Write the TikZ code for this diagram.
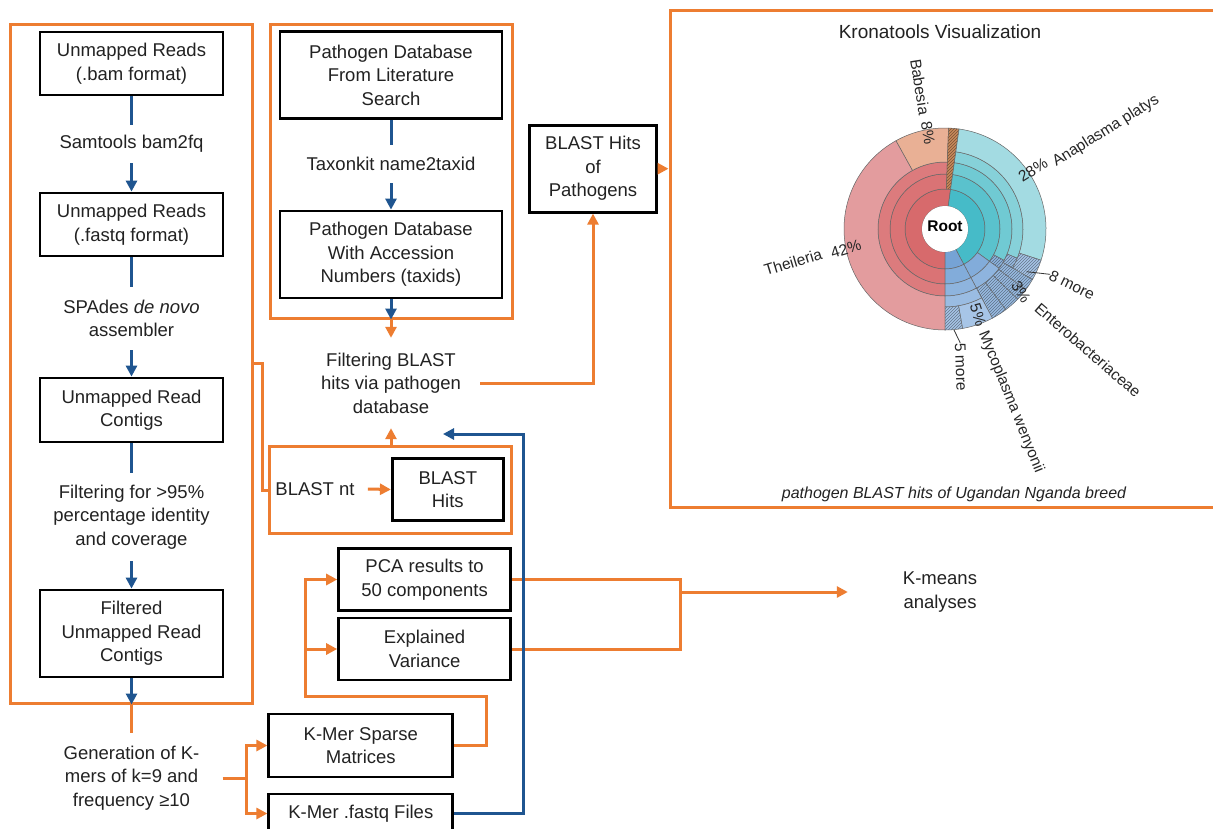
\documentclass[tikz,border=0pt]{standalone}
\usepackage{fontspec}
\setmainfont{Liberation Sans}
\usetikzlibrary{arrows.meta,patterns}
\definecolor{orng}{HTML}{ED7D31}
\definecolor{nblue}{HTML}{1F5590}
\definecolor{txt}{HTML}{222222}
\definecolor{kr1}{HTML}{D76A6C}
\definecolor{kr2}{HTML}{DA7375}
\definecolor{kr3}{HTML}{DC7B7D}
\definecolor{thei}{HTML}{E39C9E}
\definecolor{babe}{HTML}{E9B095}
\definecolor{brwn}{HTML}{C98A5C}
\definecolor{tc1}{HTML}{46BBC8}
\definecolor{tc2}{HTML}{5AC2CD}
\definecolor{tc3}{HTML}{70CAD3}
\definecolor{tc4}{HTML}{86D1D9}
\definecolor{plat}{HTML}{A3DBE2}
\definecolor{bl1}{HTML}{76A3D5}
\definecolor{bl2}{HTML}{82ACDA}
\definecolor{bl3}{HTML}{8EB4DE}
\definecolor{bl4}{HTML}{9ABCE2}
\definecolor{bl5}{HTML}{A7C5E7}
\newcommand{\mfont}{\fontsize{18.5}{23.5}\selectfont}
\newcommand{\kfont}{\fontsize{15.5}{18}\selectfont}
\newcommand{\ksec}[5]{\filldraw[fill=#1,draw=black!60,line width=0.5pt] (#2:#4pt) arc[start angle=#2,end angle=#3,radius=#4pt] -- (#3:#5pt) arc[start angle=#3,end angle=#2,radius=#5pt] -- cycle;}
\newcommand{\khat}[5]{\ksec{#1}{#2}{#3}{#4}{#5}\fill[pattern=north east lines,pattern color=#1!60!black] (#2:#4pt) arc[start angle=#2,end angle=#3,radius=#4pt] -- (#3:#5pt) arc[start angle=#3,end angle=#2,radius=#5pt] -- cycle;}
\begin{document}
\begin{tikzpicture}[x=1pt,y=-1pt,
  bx/.style={draw=black,line width=2.8pt,align=center,inner sep=0pt,font=\mfont,text=txt},
  lbl/.style={align=center,inner sep=0pt,font=\mfont,text=txt},
  grp/.style={draw=orng,line width=3pt,inner sep=0pt},
  oline/.style={draw=orng,line width=3pt},
  oarr/.style={oline,-{Triangle[length=11pt,width=11pt]}},
  bline/.style={draw=nblue,line width=3pt},
  barr/.style={bline,-{Triangle[length=11pt,width=11pt]}},
  klbl/.style={font=\kfont,inner sep=0pt,text=black!85}]
\useasboundingbox (0,0) rectangle (1213,828);
\fill[white] (0,0) rectangle (1213,828);

% ---------- left column ----------
\node[grp,minimum width=242pt,minimum height=679pt] (g1) at (131,363.5) {};
\node[bx,minimum width=183pt,minimum height=63pt] (b1) at (131.5,63.5) {Unmapped Reads\\(.bam format)};
\node[lbl,minimum height=38pt] (t1) at (131.5,144) {Samtools bam2fq};
\node[bx,minimum width=183pt,minimum height=63pt] (b2) at (131.5,224.5) {Unmapped Reads\\(.fastq format)};
\node[lbl,minimum height=63pt] (t2) at (131.5,318.5) {SPAdes \textit{de novo}\\assembler};
\node[bx,minimum width=183pt,minimum height=64pt] (b3) at (131.5,410) {Unmapped Read\\Contigs};
\node[lbl,minimum height=88pt] (t3) at (131.5,517) {Filtering for >95\%\\percentage identity\\and coverage};
\node[bx,minimum width=183pt,minimum height=87pt] (b4) at (131.5,633.5) {Filtered\\Unmapped Read\\Contigs};
\node[lbl,minimum width=182pt,minimum height=90pt] (gen) at (131.5,778) {Generation of K-\\mers of k=9 and\\frequency ≥10};

\draw[bline] (b1) -- (t1);
\draw[barr] (t1) -- (b2);
\draw[bline] (b2) -- (t2);
\draw[barr] (t2) -- (b3);
\draw[bline] (b3) -- (t3);
\draw[barr] (t3) -- (b4);
\draw[barr] (b4) -- (b4 |- g1.south);
\draw[oline] (b4 |- g1.south) -- (gen.north);

% ---------- middle top ----------
\node[grp,minimum width=242pt,minimum height=294pt] (g2) at (391,171) {};
\node[bx,minimum width=222pt,minimum height=87pt] (pd1) at (391,75) {Pathogen Database\\From Literature\\Search};
\node[lbl,minimum height=38pt] (t4) at (391,164) {Taxonkit name2taxid};
\node[bx,minimum width=222pt,minimum height=87pt] (pd2) at (391,254.5) {Pathogen Database\\With Accession\\Numbers (taxids)};
\node[lbl,minimum width=178pt,minimum height=90pt] (filt) at (391,383) {Filtering BLAST\\hits via pathogen\\database};
\draw[bline] (pd1) -- (t4);
\draw[barr] (t4) -- (pd2);
\draw[barr] (pd2) -- (pd2 |- g2.south);
\draw[oarr] (g2.south) -- (filt.north);

\node[bx,minimum width=127pt,minimum height=87pt] (bhp) at (593,168.7) {BLAST Hits\\of\\Pathogens};
\draw[oarr] (filt.east) -| (bhp.south);

% ---------- BLAST nt group ----------
\node[grp,minimum width=242pt,minimum height=87pt] (g3) at (390.5,490) {};
\node[lbl] (bnt) at (315,489) {BLAST nt};
\node[bx,minimum width=111pt,minimum height=62pt] (bh) at (447.8,489.5) {BLAST\\Hits};
\draw[oarr] ([xshift=13pt]bnt.east) -- (bh.west);
\draw[oarr] (g3.north -| filt.south) -- (filt.south);
\draw[oline] (g1.east) -- ++(9,0) |- (g3.west);

% ---------- k-mer part ----------
\node[bx,minimum width=172pt,minimum height=62pt] (pca) at (424.6,579.5) {PCA results to\\50 components};
\node[bx,minimum width=172pt,minimum height=62pt] (ev) at (424.6,649) {Explained\\Variance};
\node[bx,minimum width=184pt,minimum height=63pt] (kms) at (360.8,745.5) {K-Mer Sparse\\Matrices};
\node[bx,minimum width=184pt,minimum height=39pt] (kmf) at (360.8,813.5) {K-Mer .fastq Files};
\node[lbl,minimum width=184pt] (km) at (940,592) {K-means\\analyses};

\coordinate (gsplit) at (246,778);
\draw[oline] (gen.east) -- (gsplit);
\draw[oarr] (gsplit) |- (kms.west);
\draw[oarr] (gsplit) |- (kmf.west);
\coordinate (lpA) at (486.4,696.7);
\coordinate (lpB) at (305.4,696.7);
\draw[oarr] (kms.east) -| (lpA) -- (lpB) |- (pca.west);
\draw[oarr] (lpB |- ev.west) -- (ev.west);
\coordinate (rA) at (680,579.5);
\coordinate (rM) at (680,592);
\draw[oline] (pca.east) -- (pca.east -| rA) -- (ev.east -| rA) -- (ev.east);
\draw[oarr] (rM) -- (km.west);
\coordinate (bj) at (523.6,434);
\coordinate (fin) at (443,434);
\draw[barr] (kmf.east) -| (bj) -- (fin);

% ---------- Krona ----------
\node[grp,minimum width=560pt,minimum height=497pt] (kr) at (950,258.5) {};
\draw[oarr] (bhp.east) -- (bhp.east -| kr.west);
\node[font=\fontsize{19}{22}\selectfont,inner sep=0pt,text=txt] (ktitle) at (940,32) {Kronatools Visualization};
\node[font=\fontsize{16}{20}\selectfont\itshape,inner sep=0pt,text=txt] (kcap) at (954,494) {pathogen BLAST hits of Ugandan Nganda breed};

\begin{scope}[shift={(945,229)}]
% eukaryote side
\ksec{kr1}{82}{270}{23}{40}
\ksec{kr2}{88}{270}{40}{55}
\ksec{kr3}{88}{270}{55}{67}
\ksec{thei}{119}{270}{67}{101}
\ksec{babe}{88}{119}{67}{101}
\khat{brwn}{82}{88}{40}{101}
% anaplasma lineage
\ksec{tc1}{82}{-62}{23}{40}
\ksec{tc2}{82}{-36}{40}{55}
\ksec{tc3}{82}{-28}{55}{67}
\ksec{tc4}{82}{-22}{67}{78}
\ksec{plat}{82}{-18}{78}{101}
% other proteobacteria
\ksec{bl2}{-36}{-62}{40}{55}
\khat{bl3}{-28}{-36}{55}{67}
\ksec{bl3}{-36}{-62}{55}{67}
\khat{bl4}{-22}{-30}{67}{78}
\khat{bl5}{-18}{-30}{78}{101}
\khat{bl4}{-30}{-37}{67}{101}
\khat{bl4}{-37}{-44}{67}{101}
\khat{bl4}{-44}{-53}{67}{101}
\khat{bl4}{-53}{-62}{67}{101}
% mycoplasma lineage
\ksec{bl1}{-62}{-90}{23}{40}
\ksec{bl2}{-62}{-90}{40}{55}
\ksec{bl3}{-62}{-90}{55}{67}
\ksec{bl4}{-62}{-90}{67}{78}
\ksec{bl5}{-62}{-80}{78}{101}
\khat{bl5}{-80}{-90}{78}{101}
\fill[white] (0,0) circle[radius=23pt];
\end{scope}
\node[font=\kfont\bfseries,inner sep=0pt] (root) at (945,226) {Root};

\node[klbl,rotate=-81] (kbab) at (920,87) {Babesia};
\node[klbl,rotate=-81] (kbabp) at (928,133) {8\%};
\node[klbl,rotate=32] (kana) at (1106,131) {Anaplasma platys};
\node[klbl,rotate=32] (kanap) at (1033,170) {28\%};
\node[klbl,rotate=17] (kthe) at (793,262) {Theileria};
\node[klbl,rotate=17] (kthep) at (846,249) {42\%};
\node[klbl,rotate=-26] (k8m) at (1072,285) {8 more};
\node[klbl,rotate=-58] (kentp) at (1021,292) {3\%};
\node[klbl,rotate=-41] (kent) at (1088,350) {Enterobacteriaceae};
\node[klbl,rotate=-72] (kmycp) at (978,315) {5\%};
\node[klbl,rotate=-68] (kmyc) at (1011,402) {Mycoplasma wenyonii};
\node[klbl,rotate=-88] (k5m) at (961,367) {5 more};
\coordinate (l8a) at (1026.6,271.7);
\draw[black!80,line width=0.8pt] (l8a) -- (k8m.west);
\coordinate (l5a) at (954,330);
\draw[black!80,line width=0.8pt] (l5a) -- (k5m.west);
\end{tikzpicture}
\end{document}
